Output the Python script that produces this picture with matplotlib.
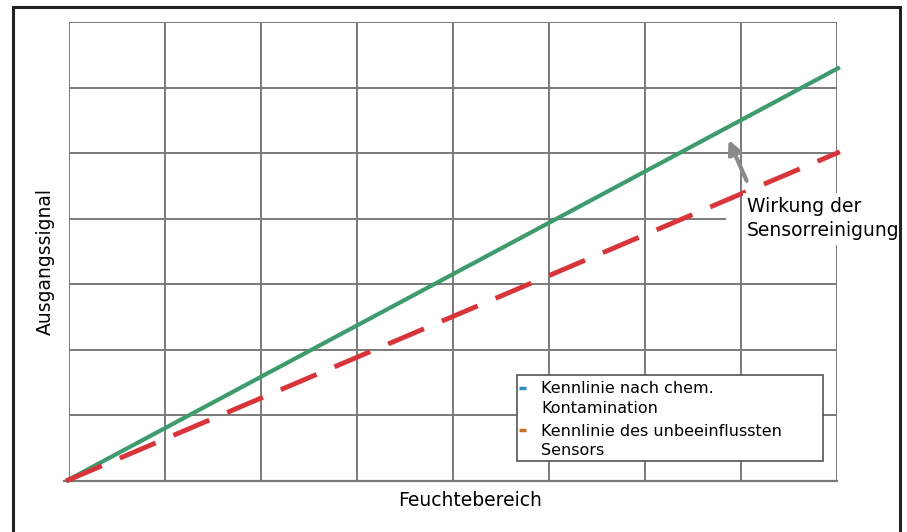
import matplotlib
matplotlib.use('Agg')
import matplotlib.pyplot as plt
from matplotlib.patches import Rectangle

# Kennlinien (x in Rastereinheiten, y in Rastereinheiten)
x_vals = [-0.03, 8.03]
kontaminiert = [0.0, 6.31]
unbeeinflusst = [0.0, 5.02]

legend_labels = ['Kennlinie nach chem.\nKontamination',
                 'Kennlinie des unbeeinflussten\nSensors']
legend_colors = ['#2b8fc4', '#c8702a']

n_cols = 8
n_rows = 7


def draw_chart():
    plt.rcParams['font.family'] = ['DejaVu Sans']
    fig = plt.figure(figsize=(9.07, 5.32), dpi=100)

    # outer frame
    fig.patches.append(Rectangle((13 / 907, -0.01), 887 / 907, 1 - 7 / 532 + 0.01,
                                 transform=fig.transFigure, fill=False,
                                 edgecolor='#222222', linewidth=2.2))

    ax = fig.add_axes([69 / 907, 51 / 532, 768 / 907, 459 / 532])
    ax.set_xlim(0, n_cols)
    ax.set_ylim(0, n_rows)
    for s in ax.spines.values():
        s.set_visible(False)
    ax.set_xticks([])
    ax.set_yticks([])

    grid_c = '#7a7a7a'
    for i in range(n_cols + 1):
        ax.axvline(i, color=grid_c, linewidth=1.4, zorder=1)
    for j in range(1, n_rows + 1):
        if j == 4:
            ax.axhline(j, xmax=(725 - 69) / 768, color=grid_c, linewidth=1.4, zorder=1)
        else:
            ax.axhline(j, color=grid_c, linewidth=1.4, zorder=1)
    ax.axhline(0, xmin=-0.007, xmax=1, color=grid_c, linewidth=1.6,
               zorder=1, clip_on=False)

    ax.plot(x_vals, kontaminiert, color='#3d9b6e', linewidth=3,
            solid_capstyle='butt', clip_on=False, zorder=3)
    ax.plot(x_vals, unbeeinflusst, color='#d8353a', linewidth=3.5,
            dashes=(8, 4), clip_on=False, zorder=3)

    # annotation
    ax.text(7.06, 4.0, 'Wirkung der\nSensorreinigung', fontsize=13.5,
            va='center', ha='left', linespacing=1.37, zorder=4,
            bbox=dict(facecolor='white', edgecolor='none', pad=3))
    ax.annotate('', xy=(6.86, 5.24), xytext=(7.07, 4.54),
                arrowprops=dict(arrowstyle='-|>', color='#8a8a8a', lw=3,
                                mutation_scale=20), zorder=5)

    # legend box
    ax.add_patch(Rectangle((0.583, 0.0436), 0.399, 0.187,
                           transform=ax.transAxes, facecolor='white',
                           edgecolor='#555555', linewidth=1.2, zorder=6))
    for k, (lab, col) in enumerate(zip(legend_labels, legend_colors)):
        y_mark = 0.2026 - k * 0.0915
        y_mid = 0.1797 - k * 0.0926
        ax.plot([0.5865, 0.5945], [y_mark, y_mark], color=col, linewidth=2.5,
                transform=ax.transAxes, zorder=7, solid_capstyle='butt')
        ax.text(0.6146, y_mid, lab, fontsize=11.5, transform=ax.transAxes,
                va='center', linespacing=1.38, zorder=7)

    fig.text(470 / 907, 1 - 500 / 532, 'Feuchtebereich', fontsize=13.5,
             ha='center', va='center')
    fig.text(45 / 907, 1 - 262 / 532, 'Ausgangssignal', fontsize=13.5,
             ha='center', va='center', rotation=90)

    fig.savefig('out.png', dpi=100)


def main():
    draw_chart()


if __name__ == "__main__":
    main()
